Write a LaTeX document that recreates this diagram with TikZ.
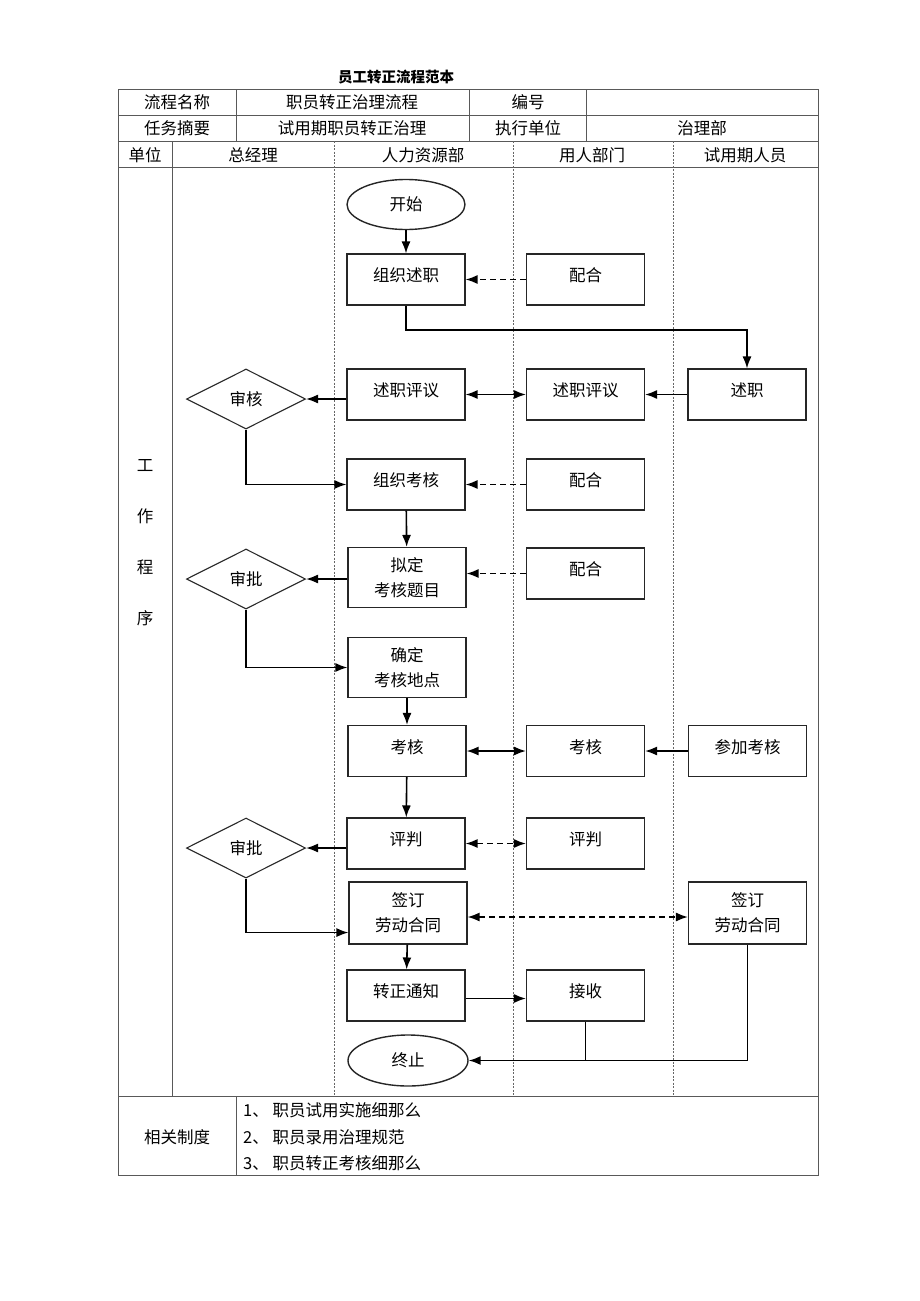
\documentclass[tikz,border=0pt]{standalone}
\usepackage{fontspec}
\setmainfont{Noto Sans CJK SC}
\usetikzlibrary{shapes.geometric,arrows.meta,calc}
\tikzset{
  box/.style={draw=black!85, line width=1.1pt, minimum width=118pt, minimum height=51pt, inner sep=0pt, align=center, font=\fontsize{16.5}{25}\selectfont, text height=11pt, text depth=6.5pt},
  tallbox/.style={draw=black!85, line width=1.1pt, minimum width=118pt, minimum height=60pt, inner sep=0pt, align=center, font=\fontsize{16.5}{25}\selectfont},
  term/.style={draw=black!85, line width=1.4pt, ellipse, minimum width=118pt, minimum height=50pt, inner sep=0pt, font=\fontsize{16.5}{18}\selectfont},
  dec/.style={draw=black!85, line width=1.1pt, diamond, minimum width=119pt, minimum height=60pt, inner sep=0pt, font=\fontsize{16.5}{18}\selectfont, aspect=2},
  tip/.tip={Latex[length=12pt,width=9pt]},
  flow/.style={line width=1.6pt, -tip},
  both/.style={line width=1.6pt, tip-tip},
  dflow/.style={flow, dash pattern=on 6pt off 4pt},
  dboth/.style={both, dash pattern=on 6pt off 4pt},
  plain/.style={line width=1.6pt},
  grid/.style={draw=black!65, line width=1pt},
  lane/.style={draw=black!60, line width=0.8pt, dash pattern=on 2pt off 1.5pt},
  cell/.style={font=\fontsize{16.5}{18}\selectfont, inner sep=0pt},
}
\begin{document}
\begin{tikzpicture}[x=1pt,y=-1pt]
\useasboundingbox (0,0) rectangle (920,1301);
% title
\node[cell, font=\fontsize{14.5}{16}\selectfont\bfseries] (title) at (396,77) {员工转正流程范本};
% table grid
\draw[grid] (118,89) rectangle (818,1175);
\draw[grid] (118,115) -- (818,115);
\draw[grid] (118,141) -- (818,141);
\draw[grid] (118,167) -- (818,167);
\draw[grid] (118,1096) -- (818,1096);
\draw[grid] (236,89) -- (236,141);
\draw[grid] (469,89) -- (469,141);
\draw[grid] (586,89) -- (586,141);
\draw[grid] (172,141) -- (172,1096);
\draw[grid] (236,1096) -- (236,1175);
\draw[lane] (334,141) -- (334,1096);
\draw[lane] (513,141) -- (513,1096);
\draw[lane] (673,141) -- (673,1096);
% header text
\node[cell] (h1) at (177,102) {流程名称};
\node[cell] (h2) at (352,102) {职员转正治理流程};
\node[cell] (h3) at (528,102) {编号};
\node[cell] (h4) at (177,128) {任务摘要};
\node[cell] (h5) at (352,128) {试用期职员转正治理};
\node[cell] (h6) at (528,128) {执行单位};
\node[cell] (h7) at (702,128) {治理部};
\node[cell] (u0) at (145,155) {单位};
\node[cell] (u1) at (253,155) {总经理};
\node[cell] (u2) at (423,155) {人力资源部};
\node[cell] (u3) at (592,155) {用人部门};
\node[cell] (u4) at (745,155) {试用期人员};
\node[cell] (g1) at (145,466) {工};
\node[cell] (g2) at (145,516) {作};
\node[cell] (g3) at (145,567) {程};
\node[cell] (g4) at (145,618) {序};
% footer
\node[cell] (f0) at (177,1137) {相关制度};
\node[cell, anchor=west] (f1) at (243,1110) {1、 职员试用实施细那么};
\node[cell, anchor=west] (f2) at (243,1137) {2、 职员录用治理规范};
\node[cell, anchor=west] (f3) at (243,1163) {3、 职员转正考核细那么};
% flow nodes
\node[term] (start) at (406,204.5) {开始};
\node[box] (zzsz) at (406,279.5) {组织述职};
\node[box] (ph1) at (585.5,279.5) {配合};
\node[box] (szpy1) at (406,394.5) {述职评议};
\node[box] (szpy2) at (585.5,394.5) {述职评议};
\node[box] (sz) at (747,394.5) {述职};
\node[dec] (sh) at (246,399) {审核};
\node[box] (zzkh) at (406,484.5) {组织考核};
\node[box] (ph2) at (585.5,484.5) {配合};
\node[tallbox] (nd) at (407,577.5) {拟定\\考核题目};
\node[box] (ph3) at (585.5,573.5) {配合};
\node[dec] (sp1) at (246,579) {审批};
\node[tallbox] (qd) at (407,667.5) {确定\\考核地点};
\node[box] (kh1) at (407,751) {考核};
\node[box] (kh2) at (585.5,751) {考核};
\node[box] (cjkh) at (747.5,751) {参加考核};
\node[box] (pp1) at (406,843.5) {评判};
\node[box] (pp2) at (585.5,843.5) {评判};
\node[dec] (sp2) at (246,848) {审批};
\node[tallbox, minimum height=62pt] (qd1) at (408,913) {签订\\劳动合同};
\node[tallbox, minimum height=62pt] (qd2) at (747.5,913) {签订\\劳动合同};
\node[box] (zztz) at (406,995.5) {转正通知};
\node[box] (js) at (585.5,995.5) {接收};
\node[term, minimum width=120pt, minimum height=51pt] (end) at (408,1060.5) {终止};
% connectors
\draw[flow] (start) -- (zzsz);
\draw[dflow] (ph1) -- (zzsz);
\coordinate (t1) at (406,330);
\draw[flow] (zzsz.south) -- (t1) -| (sz.north);
\draw[flow] (sz) -- (szpy2);
\draw[both] (szpy1) -- (szpy2);
\draw[flow] (sh.east -| szpy1.west) -- (sh.east);
\draw[flow] (sh.south) |- (zzkh.west);
\draw[dflow] (ph2) -- (zzkh);
\draw[flow] (zzkh) -- (nd);
\draw[dflow] (ph3.west) -- (ph3.west -| nd.east);
\draw[flow] (sp1.east -| nd.west) -- (sp1.east);
\draw[flow] (sp1.south) |- (qd.west);
\draw[flow] (qd) -- (kh1);
\draw[both] (kh1) -- (kh2);
\draw[flow] (cjkh) -- (kh2);
\draw[flow] (kh1) -- (pp1);
\draw[dboth] (pp1) -- (pp2);
\draw[flow] (sp2.east -| pp1.west) -- (sp2.east);
\coordinate (qa) at ($(qd1.south west)+(0,-12)$);
\draw[flow] (sp2.south) |- (qa);
\draw[dboth] ($(qd1.east)+(0,4)$) -- ($(qd2.west)+(0,4)$);
\draw[flow] (qd1) -- (zztz);
\draw[flow] ($(zztz.east)+(0,3)$) -- ($(js.west)+(0,3)$);
\draw[plain] (js.south) -- (js.south |- end.east);
\draw[flow] (qd2.south) |- (end.east);
\end{tikzpicture}
\end{document}
